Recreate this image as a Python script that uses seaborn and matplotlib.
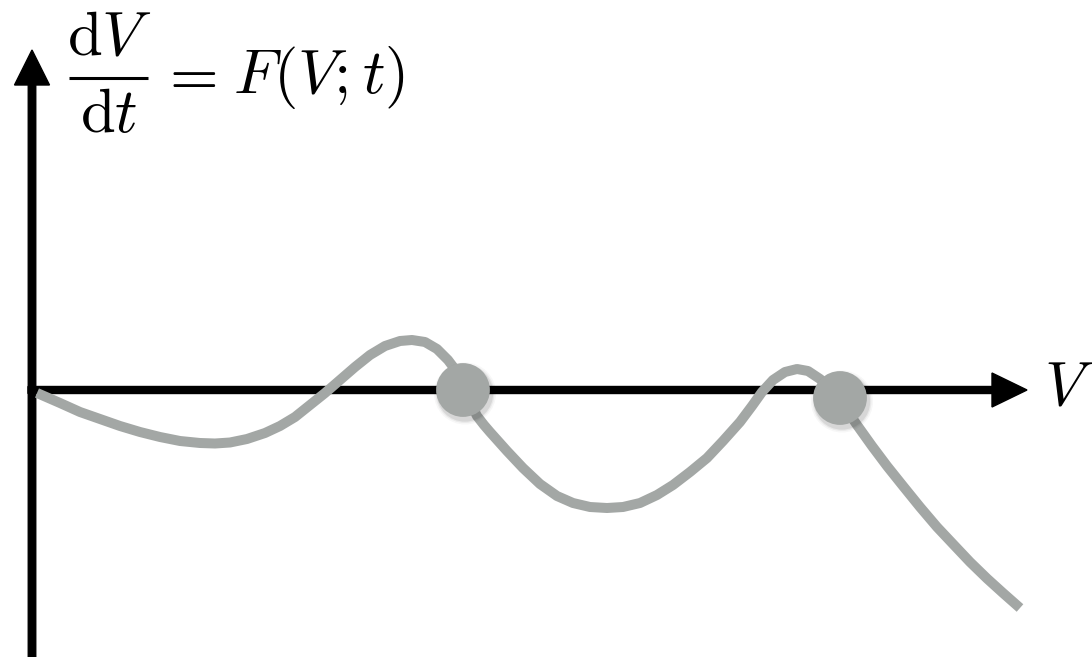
import numpy as np
import pandas as pd
import matplotlib
matplotlib.use("Agg")
import matplotlib.pyplot as plt
import seaborn as sns

# Phase-line sketch: dV/dt = F(V; t) against V
V = [0.05, 0.28, 0.48, 0.68, 0.88, 1.08, 1.28, 1.48, 1.68, 1.83, 1.98, 2.15,
     2.33, 2.48, 2.63, 2.78, 2.93, 3.08, 3.23, 3.38, 3.53, 3.68, 3.80, 3.93,
     4.05, 4.16, 4.25, 4.32, 4.39, 4.45, 4.52, 4.58, 4.75, 4.91, 5.08, 5.25,
     5.41, 5.58, 5.75, 5.91, 6.08, 6.25, 6.41, 6.58, 6.75, 6.91, 7.08, 7.20,
     7.30, 7.41, 7.53, 7.65, 7.76, 7.88, 7.98, 8.08, 8.16, 8.25, 8.40, 8.55,
     8.71, 8.88, 9.05, 9.21, 9.38, 9.55, 9.71, 9.88]
F = [-0.03, -0.13, -0.22, -0.29, -0.36, -0.42, -0.47, -0.51, -0.53, -0.535, -0.525, -0.49,
     -0.43, -0.36, -0.27, -0.15, -0.03, 0.10, 0.23, 0.35, 0.44, 0.49, 0.50, 0.48,
     0.41, 0.30, 0.18, 0.02, -0.14, -0.26, -0.35, -0.42, -0.61, -0.78, -0.94, -1.06,
     -1.13, -1.17, -1.18, -1.17, -1.13, -1.05, -0.95, -0.82, -0.68, -0.51, -0.32, -0.16,
     -0.02, 0.10, 0.18, 0.21, 0.19, 0.11, 0.02, -0.11, -0.22, -0.35, -0.56, -0.76,
     -0.96, -1.17, -1.37, -1.54, -1.72, -1.885, -2.03, -2.18]

# Equilibria (zeros of F)
eq_V = [4.31, 8.08]
eq_F = [0.00, -0.08]

num_label = r"$\mathrm{d}V$"
den_label = r"$\mathrm{d}t$"
rhs_label = r"$F(V;t)$"
x_label = r"$V$"

curve_color = "#a3a7a5"
fs = 45

sns.set_theme(style="white")
plt.rcParams["mathtext.fontset"] = "cm"

fig = plt.figure(figsize=(10.92, 6.57), dpi=100)
ax = fig.add_axes([0, 0, 1, 1])
ax.set_xlim(-0.32, 10.60)
ax.set_ylim(-2.67, 3.90)
ax.set_axis_off()

# Axes with arrow heads
ax.arrow(0, -2.70, 0, 6.10, width=0.075, head_width=0.35, head_length=0.35,
         length_includes_head=True, color="black", zorder=2)
ax.arrow(-0.04, 0, 9.99, 0, width=0.07, head_width=0.34, head_length=0.35,
         length_includes_head=True, color="black", zorder=2)

curve = pd.DataFrame({"V": V, "F": F})
sns.lineplot(data=curve, x="V", y="F", ax=ax, color=curve_color, linewidth=7.2,
             sort=False, estimator=None, zorder=3,
             solid_capstyle="butt", solid_joinstyle="round")

# Soft drop shadow under the equilibrium markers
eq = pd.DataFrame({"V": eq_V, "F": eq_F})
shadow = eq.assign(V=eq["V"] + 0.02, F=eq["F"] - 0.035)
for s, a in [(2000, 0.03), (1800, 0.05), (1650, 0.08)]:
    sns.scatterplot(data=shadow, x="V", y="F", ax=ax, s=s, color="#000000",
                    alpha=a, edgecolor="none", zorder=4, legend=False)
sns.scatterplot(data=eq, x="V", y="F", ax=ax, s=1500, color=curve_color,
                edgecolor="none", zorder=5, legend=False)

# Axis label dV/dt = F(V;t), set as a display-style fraction
ax.text(0.77, 3.35, num_label, fontsize=fs, ha="center", va="baseline", color="black")
ax.text(0.77, 2.58, den_label, fontsize=fs, ha="center", va="baseline", color="black")
ax.plot([0.37, 1.16], [3.12, 3.12], color="black", linewidth=2.2, solid_capstyle="butt")
ax.text(1.27, 2.97, r"$=$", fontsize=fs, ha="left", va="baseline", color="black")
ax.text(2.01, 2.97, rhs_label, fontsize=fs, ha="left", va="baseline", color="black")

ax.text(10.12, 0.02, x_label, fontsize=fs, ha="left", va="center", color="black")

fig.savefig("out.png", dpi=100)
